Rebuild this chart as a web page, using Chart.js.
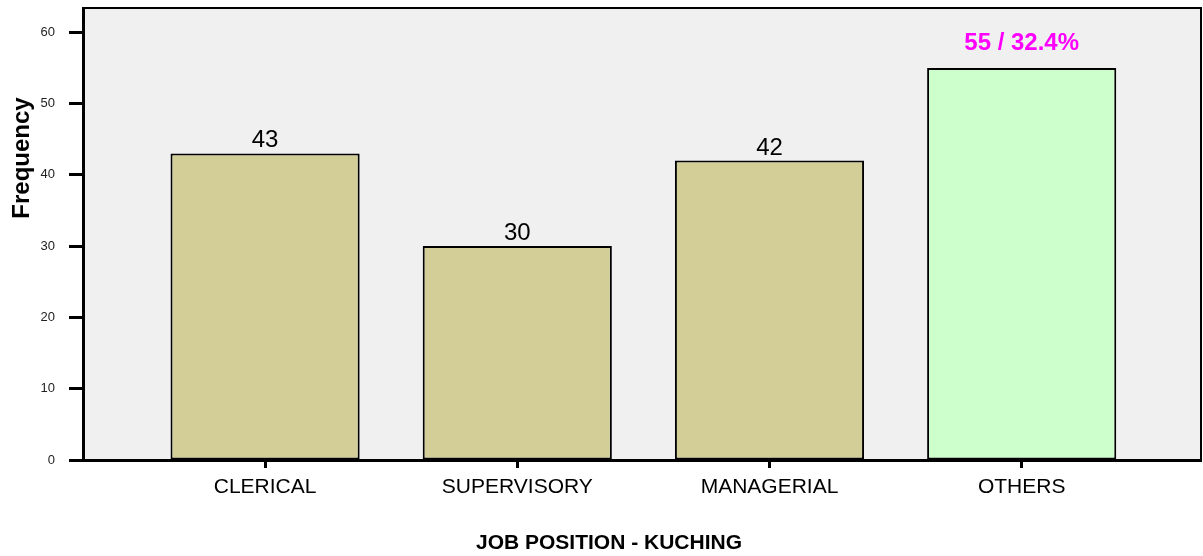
<!DOCTYPE html>
<html>
<head>
<meta charset="utf-8">
<script src="https://cdn.jsdelivr.net/npm/chart.js@4"></script>
<style>
  html, body { margin: 0; padding: 0; background: #fff; }
  #wrap { width: 1203px; height: 556px; position: relative; }
</style>
</head>
<body>
<div id="wrap"><canvas id="chart"></canvas></div>
<script>
// data
const categories = ["CLERICAL", "SUPERVISORY", "MANAGERIAL", "OTHERS"];
const frequencies = [43, 30, 42, 55];
const yTicks = [0, 10, 20, 30, 40, 50, 60];
const highlightIndex = 3;

const total = frequencies.reduce((a, b) => a + b, 0);

const barColors = frequencies.map((v, i) =>
  i === highlightIndex ? "#ccffcc" : "#d3ce98"
);

const FONT = "'Liberation Sans', Arial, sans-serif";

// plot background + frame
const frame = {
  id: "frame",
  beforeDraw(chart) {
    const { ctx, chartArea: a } = chart;
    ctx.save();
    ctx.fillStyle = "#f0f0f0";
    ctx.fillRect(a.left, a.top, a.right - a.left, a.bottom - a.top);
    ctx.restore();
  },
  afterDraw(chart) {
    const { ctx, chartArea: a } = chart;
    ctx.save();
    ctx.strokeStyle = "#000";
    ctx.lineWidth = 2;
    ctx.beginPath();
    ctx.moveTo(a.left, a.top);
    ctx.lineTo(a.right, a.top);
    ctx.lineTo(a.right, a.bottom);
    ctx.stroke();

    // axis titles
    ctx.fillStyle = "#000";
    ctx.textAlign = "center";
    ctx.textBaseline = "middle";
    ctx.font = `bold 21px ${FONT}`;
    ctx.fillText("JOB POSITION - KUCHING", 609, 543);
    ctx.translate(22, 158);
    ctx.rotate(-Math.PI / 2);
    ctx.font = `bold 24px ${FONT}`;
    ctx.fillText("Frequency", 0, 0);
    ctx.restore();
  },
};

// value labels over the bars
const barLabels = {
  id: "barLabels",
  afterDatasetsDraw(chart) {
    const { ctx } = chart;
    const meta = chart.getDatasetMeta(0);
    ctx.save();
    ctx.textAlign = "center";
    ctx.textBaseline = "alphabetic";
    meta.data.forEach((bar, i) => {
      const v = frequencies[i];
      if (i === highlightIndex) {
        const pct = ((v / total) * 100).toFixed(1);
        ctx.font = `bold 24px ${FONT}`;
        ctx.fillStyle = "#ff00ff";
        ctx.fillText(`${v} / ${pct}%`, bar.x, bar.y - 18);
      } else {
        ctx.font = `24px ${FONT}`;
        ctx.fillStyle = "#000";
        ctx.fillText(String(v), bar.x, bar.y - 6);
      }
    });
    ctx.restore();
  },
};

new Chart(document.getElementById("chart"), {
  type: "bar",
  data: {
    datasets: [
      {
        data: frequencies.map((v, i) => ({ x: i, y: v })),
        backgroundColor: barColors,
        borderColor: "#000",
        borderWidth: 2,
        borderSkipped: false,
        barPercentage: 1,
        categoryPercentage: 0.75,
      },
    ],
  },
  options: {
    responsive: true,
    maintainAspectRatio: false,
    animation: false,
    layout: { padding: { top: 8, right: 2, left: 0, bottom: 0 } },
    plugins: {
      legend: { display: false },
      tooltip: { enabled: false },
    },
    scales: {
      x: {
        type: "linear",
        offset: false,
        min: -0.722,
        max: 3.711,
        afterBuildTicks: (scale) => {
          scale.ticks = categories.map((c, i) => ({ value: i }));
        },
        afterFit: (scale) => {
          scale.height = 96;
          scale.paddingLeft = 0;
          scale.paddingRight = 0;
        },
        grid: {
          offset: false,
          drawOnChartArea: false,
          drawTicks: true,
          tickLength: 8,
          tickWidth: 3,
          tickColor: "#000",
        },
        border: { display: true, color: "#000", width: 3 },
        ticks: {
          autoSkip: false,
          maxRotation: 0,
          padding: 7,
          color: "#000",
          font: { family: FONT, size: 21 },
          callback: (v) => categories[v] ?? "",
        },
      },
      y: {
        min: 0,
        max: 63.4,
        afterBuildTicks: (scale) => {
          scale.ticks = yTicks.map((v) => ({ value: v }));
        },
        afterFit: (scale) => {
          scale.width = 83;
          scale.paddingTop = 0;
          scale.paddingBottom = 0;
        },
        grid: {
          drawOnChartArea: false,
          drawTicks: true,
          tickLength: 14,
          tickWidth: 3,
          tickColor: "#000",
        },
        border: { display: true, color: "#000", width: 3 },
        ticks: {
          padding: 14,
          color: "#222",
          font: { family: FONT, size: 13 },
        },
      },
    },
  },
  plugins: [frame, barLabels],
});
</script>
</body>
</html>
